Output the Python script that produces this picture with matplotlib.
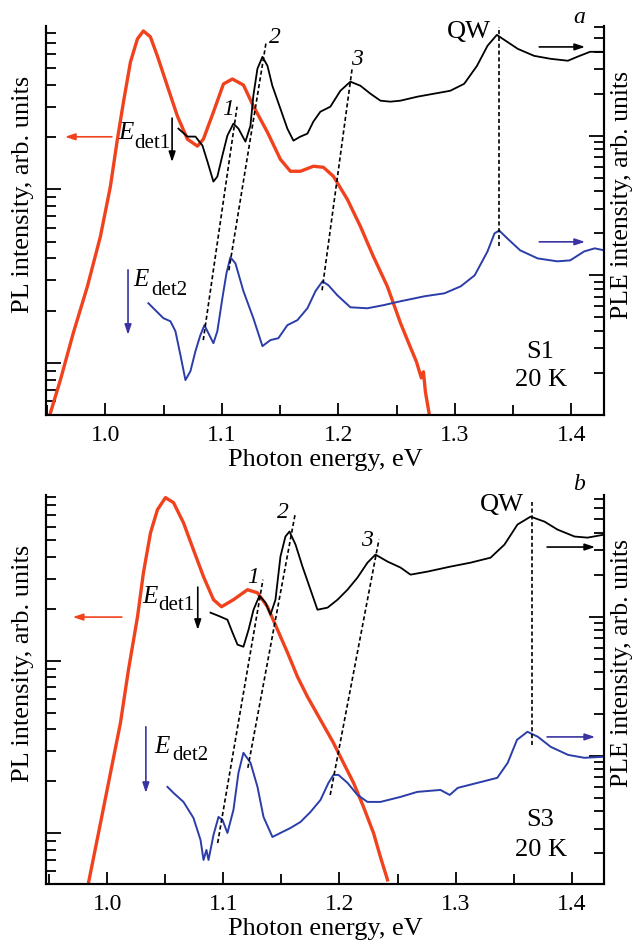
#!/usr/bin/env python

# PL and PLE spectra of samples S1 and S3 at 20 K (panels a, b).

import numpy as np
import matplotlib.pyplot as plt
from matplotlib.ticker import MultipleLocator, LogLocator, NullFormatter

plt.rcParams['font.family'] = ['Liberation Serif', 'DejaVu Serif']

# ---- panel a (S1): intensities given as lg(I), arb. units ----
pl_a_e = [0.9528, 0.9614, 0.9725, 0.9845, 0.9957, 1.0043, 1.0103, 1.0155, 1.0215, 1.0275,
          1.0326, 1.0386, 1.0446, 1.0532, 1.0618, 1.0704, 1.0790, 1.0841, 1.0927, 1.1013,
          1.1090, 1.1185, 1.1270, 1.1391, 1.1502, 1.1588, 1.1674, 1.1785, 1.1871, 1.1957,
          1.2077, 1.2189, 1.2300, 1.2421, 1.2532, 1.2609, 1.2670, 1.2712, 1.2730, 1.2747, 1.2781]
pl_a_lg = [-0.289, -0.098, 0.173, 0.439, 0.728, 1.017, 1.289, 1.503, 1.734, 1.867,
           1.913, 1.879, 1.769, 1.595, 1.422, 1.289, 1.249, 1.289, 1.445, 1.607,
           1.636, 1.601, 1.480, 1.329, 1.173, 1.104, 1.104, 1.133, 1.127, 1.075,
           0.942, 0.786, 0.613, 0.439, 0.231, 0.104, 0.006, -0.087, -0.052, -0.168, -0.301]

ple1_a_e = [1.0627, 1.0704, 1.0773, 1.0833, 1.0876, 1.0927, 1.0961, 1.1004, 1.1047, 1.1099,
            1.1142, 1.1202, 1.1245, 1.1270, 1.1305, 1.1348, 1.1391, 1.1433, 1.1502, 1.1562,
            1.1614, 1.1674, 1.1734, 1.1785, 1.1845, 1.1931, 1.2017, 1.2103, 1.2189, 1.2275,
            1.2361, 1.2446, 1.2532, 1.268, 1.282, 1.296, 1.308, 1.319, 1.328, 1.336,
            1.345, 1.354, 1.368, 1.382, 1.397, 1.405, 1.416, 1.428]
ple1_a_lg = [1.050, 0.993, 0.993, 0.929, 0.814, 0.671, 0.707, 0.857, 1.000, 1.086,
             1.050, 0.957, 1.071, 1.286, 1.479, 1.564, 1.500, 1.357, 1.193, 1.050,
             0.964, 0.993, 1.014, 1.100, 1.171, 1.207, 1.321, 1.386, 1.357, 1.300,
             1.250, 1.243, 1.250, 1.279, 1.300, 1.321, 1.371, 1.500, 1.643, 1.721,
             1.671, 1.621, 1.571, 1.550, 1.536, 1.564, 1.600, 1.600]

ple2_a_e = [1.0369, 1.0429, 1.0498, 1.0558, 1.0601, 1.0644, 1.0687, 1.0730, 1.0773, 1.0815,
            1.0850, 1.0884, 1.0927, 1.0961, 1.1004, 1.1039, 1.1073, 1.1116, 1.1185, 1.1270,
            1.1348, 1.1416, 1.1485, 1.1562, 1.1648, 1.1734, 1.1803, 1.1863, 1.1914, 1.1991,
            1.2103, 1.2249, 1.2386, 1.2532, 1.274, 1.291, 1.305, 1.317, 1.328, 1.334,
            1.338, 1.345, 1.356, 1.371, 1.388, 1.399, 1.411, 1.420, 1.428]
ple2_a_lg = [-0.200, -0.250, -0.307, -0.329, -0.400, -0.571, -0.750, -0.686, -0.543, -0.429,
             -0.357, -0.414, -0.486, -0.400, -0.164, 0.014, 0.129, 0.086, -0.114, -0.307,
             -0.507, -0.464, -0.450, -0.357, -0.321, -0.236, -0.114, -0.043, -0.071, -0.143,
             -0.229, -0.236, -0.214, -0.186, -0.150, -0.129, -0.079, 0.000, 0.171, 0.300,
             0.321, 0.264, 0.179, 0.121, 0.100, 0.107, 0.171, 0.193, 0.179]

# dashed guide lines in PLE units: lines 1, 2, 3 and QW
guide_a_e = [(1.084, 1.113), (1.106, 1.138), (1.186, 1.212), (1.338, 1.338)]
guide_a_lg = [(-0.464, 1.207), (0.036, 1.671), (-0.107, 1.493), (0.207, 1.779)]

# ---- panel b (S3) ----
pl_b_e = [0.9836, 0.9940, 1.0026, 1.0112, 1.0181, 1.0259, 1.0310, 1.0371, 1.0431, 1.0500,
          1.0569, 1.0655, 1.0741, 1.0828, 1.0914, 1.0983, 1.1086, 1.1207, 1.1293, 1.1379,
          1.1466, 1.1552, 1.1638, 1.1724, 1.1836, 1.1948, 1.2034, 1.2121, 1.2207, 1.2293,
          1.2353, 1.2414]
pl_b_lg = [-0.291, 0.058, 0.349, 0.640, 0.948, 1.256, 1.512, 1.744, 1.878, 1.948,
           1.919, 1.802, 1.645, 1.488, 1.355, 1.314, 1.355, 1.413, 1.395, 1.314,
           1.180, 1.047, 0.907, 0.791, 0.657, 0.523, 0.407, 0.291, 0.151, 0.000,
           -0.140, -0.273]

ple1_b_e = [1.0888, 1.0974, 1.1034, 1.1078, 1.1121, 1.1172, 1.1216, 1.1259, 1.1310, 1.1362,
            1.1405, 1.1448, 1.1491, 1.1534, 1.1569, 1.1621, 1.1681, 1.1750, 1.1810, 1.1897,
            1.1983, 1.2069, 1.2155, 1.2241, 1.2310, 1.2414, 1.2526, 1.2612, 1.2759, 1.2957,
            1.3129, 1.3302, 1.3422, 1.3534, 1.3647, 1.3767, 1.3879, 1.4026, 1.4138, 1.4284]
ple1_b_lg = [1.029, 1.000, 0.978, 0.885, 0.799, 0.784, 0.906, 1.050, 1.151, 1.101,
             1.014, 1.122, 1.432, 1.576, 1.612, 1.518, 1.360, 1.194, 1.050, 1.065,
             1.122, 1.194, 1.281, 1.388, 1.446, 1.396, 1.353, 1.302, 1.324, 1.360,
             1.388, 1.424, 1.518, 1.662, 1.719, 1.683, 1.626, 1.576, 1.568, 1.590]

ple2_b_e = [1.0517, 1.0569, 1.0655, 1.0741, 1.0802, 1.0828, 1.0853, 1.0871, 1.0914, 1.0957,
            1.0991, 1.1034, 1.1086, 1.1129, 1.1172, 1.1233, 1.1293, 1.1345, 1.1422, 1.1491,
            1.1578, 1.1664, 1.1750, 1.1836, 1.1905, 1.1948, 1.1991, 1.2069, 1.2155, 1.2241,
            1.2353, 1.2526, 1.267, 1.287, 1.295, 1.302, 1.319, 1.336, 1.345, 1.353,
            1.362, 1.371, 1.382, 1.397, 1.411, 1.427]
ple2_b_lg = [-0.223, -0.266, -0.331, -0.446, -0.604, -0.748, -0.676, -0.748, -0.568, -0.439,
             -0.460, -0.554, -0.388, -0.122, 0.022, -0.050, -0.223, -0.439, -0.583, -0.554,
             -0.518, -0.475, -0.403, -0.317, -0.194, -0.137, -0.137, -0.194, -0.281, -0.331,
             -0.331, -0.295, -0.259, -0.245, -0.281, -0.230, -0.194, -0.158, -0.050, 0.115,
             0.173, 0.137, 0.065, 0.007, -0.014, -0.007]

guide_b_e = [(1.095, 1.134), (1.121, 1.162), (1.192, 1.234), (1.366, 1.366)]
guide_b_lg = [(-0.626, 1.266), (-0.086, 1.748), (-0.281, 1.554), (0.079, 1.827)]

RED = '#f1421e'
BLUE = '#2b3da8'
ARROW_BLUE = '#3a34a2'
FS_TICK = 17
FS_LAB = 19


def setup_axes(ax, ax2, xlim, ylim, ylim2):
  ax.set_yscale('log')
  ax2.set_yscale('log')
  ax.set_xlim(*xlim)
  ax.set_ylim(*ylim)
  ax2.set_ylim(*ylim2)

  for a in (ax, ax2):
    a.yaxis.set_major_locator(LogLocator(base=10, numticks=20))
    a.yaxis.set_minor_locator(LogLocator(base=10, subs=np.arange(2, 10), numticks=20))
    a.yaxis.set_major_formatter(NullFormatter())
    a.yaxis.set_minor_formatter(NullFormatter())
    a.spines['top'].set_visible(False)
    for s in a.spines.values():
      s.set_linewidth(1.5)

  ax.xaxis.set_major_locator(MultipleLocator(0.1))
  ax.xaxis.set_minor_locator(MultipleLocator(0.05))
  ax.tick_params(axis='x', which='both', direction='in', top=False, width=1.3,
                 labelsize=FS_TICK, pad=7)
  ax.tick_params(axis='x', which='major', length=9)
  ax.tick_params(axis='x', which='minor', length=7)
  ax.tick_params(axis='y', which='both', direction='in', left=True, right=False, width=1.3)
  ax.tick_params(axis='y', which='major', length=11)
  ax.tick_params(axis='y', which='minor', length=7)
  ax2.tick_params(axis='y', which='both', direction='in', left=False, right=True, width=1.3)
  ax2.tick_params(axis='y', which='major', length=11)
  ax2.tick_params(axis='y', which='minor', length=7)

  ax.set_xlabel('Photon energy, eV', fontsize=FS_LAB)
  # centre both y labels on their anchor so they can be placed by their middle
  ax.set_ylabel('PL intensity, arb. units', fontsize=FS_LAB, va='center')
  ax2.set_ylabel('PLE intensity, arb. units', fontsize=18.5, rotation=90, va='center')


def arrow(ax, x0, y0, x1, y1, color):
  ax.annotate('', xy=(x1, y1), xytext=(x0, y0), xycoords='axes fraction',
              textcoords='axes fraction',
              arrowprops=dict(arrowstyle='-|>,head_length=0.6,head_width=0.2',
                              color=color, lw=1.2, shrinkA=0, shrinkB=0))


def panel(ax, pl_e, pl_lg, p1_e, p1_lg, p2_e, p2_lg, g_e, g_lg, xlim, ylim, ylim2, txt):
  ax2 = ax.twinx()
  setup_axes(ax, ax2, xlim, ylim, ylim2)

  ax.plot(pl_e, 10 ** np.array(pl_lg), color=RED, lw=2.4, solid_joinstyle='round')
  ax2.plot(p1_e, 10 ** np.array(p1_lg), color='black', lw=1.3, solid_joinstyle='round')
  ax2.plot(p2_e, 10 ** np.array(p2_lg), color=BLUE, lw=1.4, solid_joinstyle='round')

  for ge, gl in zip(g_e, g_lg):
    ax2.plot(ge, 10 ** np.array(gl), color='black', lw=1.2, ls=(0, (2.5, 1.6)))

  ax.yaxis.set_label_coords(-0.041, txt['ylab'])
  ax2.yaxis.set_label_coords(1.032, txt['ylab'])
  ax.xaxis.set_label_coords(0.5, -0.088)

  tr = ax.transAxes
  for s, (x, y) in txt['ital'].items():
    ax.text(x, y, s, transform=tr, fontsize=FS_TICK, style='italic', ha='center', va='center')
  for s, (x, y) in txt['plain'].items():
    ax.text(x, y, s, transform=tr, fontsize=FS_LAB, ha='center', va='center')

  for (xe, ye), (xd, yd), sub in txt['edet']:
    ax.text(xe, ye, 'E', transform=tr, fontsize=18, style='italic', ha='center', va='center')
    ax.text(xd, yd, sub, transform=tr, fontsize=15, ha='center', va='center')

  for (x0, y0, x1, y1, c) in txt['arrows']:
    arrow(ax, x0, y0, x1, y1, c)


fig = plt.figure(figsize=(6.37, 9.49), dpi=100)
ax_a = fig.add_axes([0.0722, 0.5627, 0.876, 0.41])
ax_b = fig.add_axes([0.0722, 0.0685, 0.876, 0.41])

txt_a = dict(
  ylab=0.566,
  ital={'1': (0.326, 0.784), '2': (0.410, 0.969), '3': (0.557, 0.913), 'a': (0.955, 1.021)},
  plain={'QW': (0.758, 0.985), 'S1': (0.885, 0.162), '20 K': (0.887, 0.090)},
  edet=[((0.143, 0.725), (0.190, 0.699), 'det1'),
        ((0.170, 0.347), (0.221, 0.321), 'det2')],
  arrows=[(0.118, 0.715, 0.034, 0.715, RED),
          (0.226, 0.763, 0.226, 0.650, 'black'),
          (0.147, 0.373, 0.147, 0.206, ARROW_BLUE),
          (0.884, 0.946, 0.966, 0.946, 'black'),
          (0.884, 0.445, 0.966, 0.445, ARROW_BLUE)],
)

txt_b = dict(
  ylab=0.567,
  ital={'1': (0.371, 0.789), '2': (0.425, 0.956), '3': (0.575, 0.884), 'b': (0.955, 1.026)},
  plain={'QW': (0.817, 0.974), 'S3': (0.885, 0.165), '20 K': (0.887, 0.087)},
  edet=[((0.186, 0.738), (0.233, 0.715), 'det1'),
        ((0.208, 0.352), (0.258, 0.330), 'det2')],
  arrows=[(0.136, 0.686, 0.048, 0.686, RED),
          (0.272, 0.763, 0.272, 0.653, 'black'),
          (0.179, 0.404, 0.179, 0.234, ARROW_BLUE),
          (0.898, 0.866, 0.984, 0.866, 'black'),
          (0.898, 0.378, 0.984, 0.378, ARROW_BLUE)],
)

panel(ax_a, pl_a_e, pl_a_lg, ple1_a_e, ple1_a_lg, ple2_a_e, ple2_a_lg,
      guide_a_e, guide_a_lg, (0.949, 1.428), (0.5, 87.5), (0.1, 61.0), txt_a)
panel(ax_b, pl_b_e, pl_b_lg, ple1_b_e, ple1_b_lg, ple2_b_e, ple2_b_lg,
      guide_b_e, guide_b_lg, (0.947, 1.428), (0.505, 92.0), (0.12, 75.0), txt_b)

fig.savefig('out.png', dpi=100)
